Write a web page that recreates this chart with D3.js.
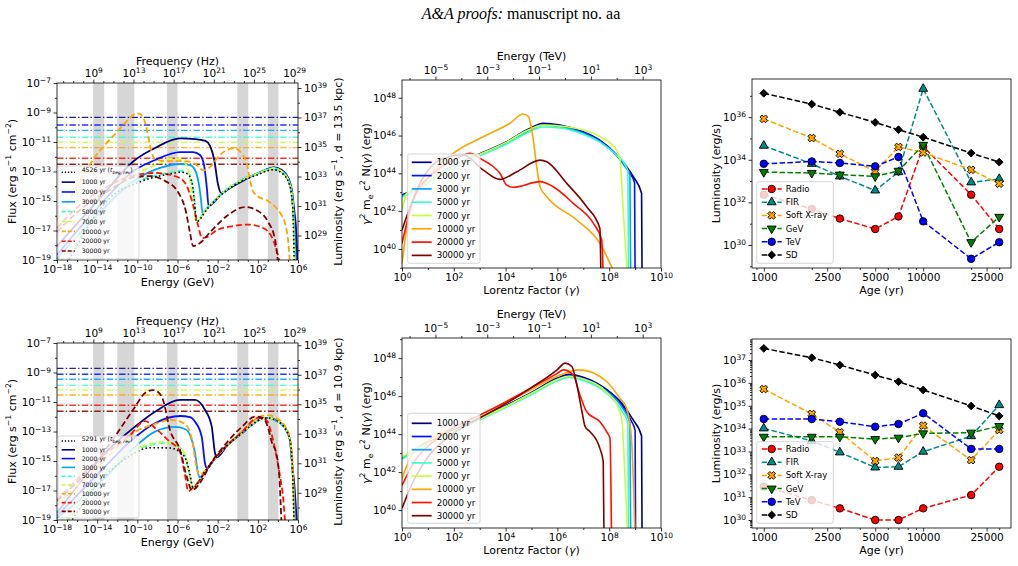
<!DOCTYPE html>
<html lang="en">
<head>
<meta charset="utf-8" />
<title></title>
<script src="https://cdn.jsdelivr.net/npm/d3@7"></script>
<style>
  body { margin: 0; background: #fff; }
  svg { font-family: "DejaVu Sans", sans-serif; }
</style>
</head>
<body>
<script>
// ---------- data (log10 values) ----------
var ageLabels = ["1000 yr", "2000 yr", "3000 yr", "5000 yr", "7000 yr", "10000 yr", "20000 yr", "30000 yr"];
var ageColors = ["#000080", "#0012ff", "#00a4ff", "#36ffc9", "#c9ff36", "#ffa400", "#ff1200", "#800000"];

// grey bands, log10 E(GeV): radio, FIR, soft X, GeV, TeV
var bandsLogE = [[-14.4, -13.3], [-12, -10.3], [-7.05, -6.0], [-0.05, 1.05], [3.0, 4.05]];

// spin-down flux levels (dash-dot lines), log10 flux
var levelsTop = [-9.33, -9.85, -10.21, -10.68, -11.02, -11.38, -12.1, -12.51];
var levelsBot = [-8.72, -9.12, -9.46, -9.87, -10.19, -10.53, -11.22, -11.63];

// SED top (d = 13.5 kpc) : [log E(GeV), log flux]
var icTop = [[-4.1, -16.35], [-3, -15.45], [-1.6, -14.5], [0.4, -13.58], [2.06, -13.12], [3.06, -12.85], [3.55, -12.78], [4.38, -13.0], [5.04, -13.58], [5.38, -14.48], [5.54, -15.8]];
var navyTop = [[-18, -18.05], [-13.72, -14.8], [-10.23, -12.22], [-8.24, -11.41], [-5.75, -10.76], [-4.25, -10.8], [-3.22, -10.93], [-2.76, -11.27], [-2.34, -12.22], [-1.95, -13.92], [-1.66, -14.46], [-0.76, -14.12], [1.23, -13.37], [2.72, -12.9], [3.6, -12.72], [4.4, -12.9], [5.04, -13.45], [5.4, -14.3], [5.62, -15.6], [5.8, -16.8], [5.95, -19.2]];
var blueTop = [[-18, -18.66], [-13.72, -15.27], [-10.23, -12.9], [-8.24, -12.22], [-5.75, -11.68], [-4.45, -11.68], [-3.76, -11.88], [-3.36, -12.56], [-3.06, -14.25], [-2.91, -15.34]];
var dodgerTop = [[-18, -18.9], [-13.72, -15.75], [-10.23, -13.58], [-7.74, -12.76], [-5.75, -12.49], [-4.75, -12.56], [-4.25, -12.9], [-3.86, -13.92], [-3.66, -14.93], [-3.51, -15.81]];
var aquaTop = [[-17.1, -19.2], [-15.71, -17.5], [-12.72, -14.7], [-9.73, -13.6], [-7.04, -13.1], [-5.6, -12.95], [-4.95, -13.1], [-4.55, -13.7], [-4.3, -15.0], [-4.12, -16.3]];
var gyTop = [[-17.7, -19.2], [-15.71, -17.1], [-12.72, -14.25], [-9.73, -13.03], [-7.74, -12.42], [-6.45, -12.1], [-5.55, -12.2], [-4.95, -12.9], [-4.55, -14.59], [-4.25, -16.15]];
var orangeTop = [[-18, -16.29], [-16.21, -14.25], [-14.22, -12.02], [-12.22, -10.46], [-10.93, -9.51], [-10.23, -9.1], [-9.83, -9.07], [-9.43, -9.31], [-9.04, -10.19], [-8.64, -11.54], [-8.24, -12.15], [-7.24, -12.29], [-5.25, -12.29], [-4.25, -12.49], [-3.4, -12.92], [-2.6, -12.6], [-1.95, -12.0], [-0.9, -11.5], [-0.27, -11.43], [0.4, -11.8], [0.89, -12.44], [1.2, -13.5], [1.45, -14.25], [2.05, -14.71], [2.9, -14.95], [3.71, -15.39], [4.3, -15.9], [4.71, -16.51], [5.0, -17.6], [5.2, -19.2]];
var redTop = [[-18, -16.83], [-15.71, -15.27], [-12.72, -13.92], [-10.23, -13.24], [-8.24, -13.1], [-6.25, -13.31], [-5.25, -13.78], [-4.45, -15.27], [-3.96, -16.63], [-3.56, -17.51], [-3.06, -17.44], [-2.06, -16.97], [-0.46, -16.7], [1.03, -16.6], [2.52, -16.83], [3.52, -17.64], [4.21, -19.2]];
var darkredTop = [[-18, -17.1], [-15.71, -15.61], [-12.72, -14.25], [-10.23, -13.37], [-8.74, -13.31], [-7.24, -13.64], [-5.95, -14.39], [-5.15, -15.75], [-4.75, -17.17], [-4.45, -18.05], [-3.76, -17.85], [-2.56, -16.97], [-0.96, -15.95], [0.72, -15.41], [2.02, -15.68], [3.02, -16.42], [3.72, -17.64], [4.02, -19.2]];
var blackTop = [[-17, -19.2], [-12.72, -14.8], [-9.73, -13.7], [-7.04, -13.2], [-5.6, -13.05], [-4.95, -13.2], [-4.55, -13.8], [-4.3, -15.1], [-4.12, -16.4], [-3, -15.5], [-1.6, -14.55], [0.4, -13.65], [2.06, -13.2], [3.06, -12.93], [3.55, -12.88], [4.38, -13.1], [5.04, -13.7], [5.36, -14.6], [5.5, -15.8], [5.62, -19.2]];
var tailsTop = [null, [[5.82, -19.2]], [[5.76, -19.2]], [[5.7, -19.2]], [[5.66, -19.2]]];

// SED bottom (d = 10.9 kpc)
var icBot = [[-3.3, -15.75], [-2.26, -14.82], [-1, -13.9], [0.4, -13.12], [1.5, -12.5], [2.55, -12.1], [3.2, -12.08], [3.71, -12.22], [4.3, -12.45], [4.71, -12.78], [5.2, -13.58], [5.44, -15.39]];
var navyBot = [[-18, -18.53], [-13.22, -14.46], [-10.23, -12.67], [-8.24, -11.66], [-5.75, -10.86], [-4.25, -10.86], [-3.26, -11.54], [-2.59, -12.67], [-2.27, -14.46], [-2.1, -14.75]];
var blueBot = [[-18, -18.73], [-13.22, -15.39], [-10.56, -13.58], [-8.24, -12.44], [-5.75, -11.95], [-4.75, -12.02], [-4.25, -12.34], [-3.59, -13.35], [-3.26, -15.16], [-3.09, -15.5]];
var dodgerBot = [[-18, -18.86], [-13.22, -16.15], [-10.56, -14.25], [-8.24, -13.01], [-6.25, -12.69], [-5.25, -12.83], [-4.75, -13.24], [-4.25, -14.46], [-3.96, -15.81], [-3.76, -16.1]];
var aquaBot = [[-17.1, -19.2], [-13.72, -16.25], [-10.73, -14.45], [-8.74, -13.92], [-7.24, -13.78], [-5.95, -14.02], [-5.25, -14.6], [-4.85, -15.8], [-4.5, -16.8]];
var gyBot = [[-17.2, -19.2], [-13.72, -16.15], [-10.73, -14.39], [-8.74, -13.85], [-7.24, -13.71], [-5.95, -13.98], [-5.25, -14.59], [-4.85, -15.75], [-4.55, -16.76]];
var orangeBot = [[-18, -17.98], [-13.22, -14.93], [-10.23, -13.03], [-8.24, -12.49], [-6.55, -12.22], [-5.25, -12.49], [-4.55, -13.58], [-4.15, -15.27], [-3.86, -15.95], [-2.26, -14.75], [0.4, -13.0], [1.5, -12.3], [2.55, -11.92], [3.2, -11.9], [3.71, -12.05], [4.3, -12.3], [4.8, -12.75], [5.2, -13.5], [5.45, -15.0], [5.65, -19.2]];
var redBot = [[-18, -17.64], [-13.72, -14.8], [-10.73, -13.24], [-9.23, -12.29], [-8.24, -12.76], [-6.94, -13.58], [-5.75, -14.39], [-5.25, -15.95], [-4.93, -17.05], [-4.6, -16.9], [-2.26, -14.8], [0.4, -13.03], [2.02, -12.08], [2.82, -12.2], [3.3, -13.0], [3.8, -14.5], [4.2, -16.0], [4.54, -17.64], [4.72, -19.2]];
var darkredBot = [[-18, -17.71], [-13.72, -14.73], [-10.43, -11.54], [-9.23, -10.39], [-8.44, -10.19], [-7.94, -10.32], [-7.44, -10.86], [-6.75, -12.9], [-5.75, -14.25], [-5.08, -16.06], [-4.58, -16.97], [-2.26, -14.73], [0.4, -12.69], [1.73, -11.99], [2.52, -12.08], [3.0, -12.7], [3.38, -13.7], [3.88, -14.6], [4.15, -16.2], [4.35, -19.2]];
var blackBot = [[-16.7, -19.2], [-13.72, -16.4], [-10.73, -14.65], [-8.74, -14.1], [-6.75, -14.12], [-5.75, -14.4], [-5.15, -14.93], [-4.75, -15.95], [-4.45, -16.8]];
var tailsBot = [[[5.62, -16.5], [5.88, -19.2]], [[5.8, -19.2]], [[5.72, -19.2]], [[5.66, -19.2]], [[5.63, -19.2]]];

// electron spectra top: [log gamma, log gamma^2 me c^2 N]
var navyNe = [[0, 42.85], [0.69, 43.29], [1.47, 44.0], [2.75, 44.88], [4.04, 45.67], [4.81, 46.29], [5.46, 46.65], [6.1, 46.56], [7.0, 46.2], [7.64, 45.76], [8.29, 44.97], [8.93, 43.82], [9.25, 42.94], [9.27, 38.5]];
var blueNe = [[0, 42.85], [0.69, 43.27], [1.47, 43.97], [2.75, 44.85], [4.04, 45.64], [4.81, 46.25], [5.46, 46.6], [6.1, 46.52], [7.0, 46.17], [7.64, 45.73], [8.29, 44.95], [8.7, 44.2], [8.98, 43.5], [9.0, 38.5]];
var dodgerNe = [[0, 42.8], [0.69, 43.25], [1.47, 43.95], [2.75, 44.82], [4.04, 45.6], [4.81, 46.2], [5.46, 46.55], [6.1, 46.47], [7.0, 46.12], [7.64, 45.68], [8.29, 44.93], [8.6, 44.4], [8.8, 43.9], [8.83, 38.5]];
var aquaNe = [[0, 42.75], [0.69, 43.2], [1.47, 43.9], [2.75, 44.78], [4.04, 45.55], [4.81, 46.12], [5.46, 46.45], [6.1, 46.4], [7.0, 46.07], [7.64, 45.65], [8.29, 44.95], [8.6, 44.5], [8.72, 44.1], [8.75, 38.5]];
var gyNe = [[0, 42.06], [0.18, 42.94], [0.69, 43.3], [1.47, 43.98], [2.75, 44.85], [4.04, 45.65], [4.81, 46.25], [5.46, 46.55], [6.36, 46.47], [7.64, 45.94], [8.29, 45.23], [8.42, 44.7], [8.54, 42.06], [8.71, 38.5]];
var orangeNe = [[0, 39.24], [0.31, 42.06], [0.95, 43.65], [1.98, 45.06], [3.14, 45.94], [4.17, 46.65], [4.68, 47.14], [4.88, 47.0], [5.07, 45.76], [5.2, 44.35], [5.33, 43.29], [5.59, 42.76], [6.75, 41.53], [7.64, 40.3], [8.16, 38.88], [8.3, 38.5]];
var redNe = [[0, 40.3], [0.44, 42.59], [1.21, 44.0], [2.11, 44.79], [2.63, 45.06], [3.01, 44.79], [3.53, 44.35], [3.78, 44.0], [4.04, 43.38], [4.3, 43.26], [5.33, 43.56], [5.84, 43.29], [6.61, 42.41], [7.39, 41.35], [7.71, 40.47], [7.77, 38.5]];
var darkredNe = [[0, 41.0], [0.69, 43.47], [1.59, 44.79], [2.37, 44.97], [3.14, 44.17], [3.78, 43.68], [4.43, 44.08], [5.33, 44.7], [5.59, 44.61], [6.36, 43.47], [7.13, 42.23], [7.64, 41.09], [7.68, 38.5]];

// electron spectra bottom
var navyNe2 = [[0, 42.75], [0.8, 43.4], [2, 44.2], [3, 44.85], [4, 45.5], [5, 46.2], [6, 46.95], [6.45, 47.15], [7, 47.0], [7.9, 46.35], [8.5, 45.6], [8.9, 44.8], [9.25, 43.9], [9.27, 38.5]];
var blueNe2 = [[0, 42.72], [0.8, 43.37], [2, 44.17], [3, 44.82], [4, 45.47], [5, 46.17], [6, 46.92], [6.45, 47.1], [7, 46.95], [7.9, 46.3], [8.5, 45.5], [8.85, 44.7], [9.0, 44.2], [9.02, 38.5]];
var dodgerNe2 = [[0, 42.7], [0.8, 43.35], [2, 44.14], [3, 44.79], [4, 45.44], [5, 46.13], [6, 46.87], [6.45, 47.05], [7, 46.9], [7.9, 46.25], [8.5, 45.4], [8.8, 44.6], [8.83, 38.5]];
var aquaNe2 = [[0, 42.68], [0.8, 43.32], [2, 44.1], [3, 44.75], [4, 45.4], [5, 46.08], [6, 46.8], [6.45, 46.98], [7, 46.82], [7.9, 46.15], [8.5, 45.2], [8.72, 44.6], [8.75, 38.5]];
var gyNe2 = [[0, 42.8], [0.8, 43.38], [2, 44.15], [3, 44.8], [4, 45.45], [5, 46.15], [6, 46.88], [6.45, 47.05], [7, 46.9], [7.9, 46.2], [8.35, 45.4], [8.5, 44.6], [8.6, 42.0], [8.72, 38.5]];
var orangeNe2 = [[0, 41.67], [0.44, 43.07], [1, 43.65], [2, 44.35], [3, 45.0], [4, 45.65], [5, 46.35], [6, 47.05], [6.85, 47.38], [7.9, 46.77], [8.41, 45.89], [8.67, 45.36], [8.86, 43.78], [9.0, 38.5]];
var redNe2 = [[0, 41.3], [0.5, 42.6], [1.2, 43.6], [2, 44.35], [3, 45.0], [4, 45.7], [5, 46.45], [6, 47.2], [6.23, 47.38], [6.61, 47.12], [6.87, 46.06], [7.13, 45.18], [7.64, 44.65], [7.9, 44.13], [8.03, 43.78], [8.09, 38.5]];
var darkredNe2 = [[0, 40.1], [0.5, 41.7], [1, 42.8], [2, 44.05], [3, 44.85], [4, 45.6], [5, 46.45], [6, 47.4], [6.3, 47.74], [6.56, 47.56], [6.75, 46.59], [6.95, 45.18], [7.07, 44.39], [7.26, 44.13], [7.64, 43.25], [7.77, 42.54], [7.8, 38.5]];

// band luminosities vs age, log10 erg/s
var ages = [1000, 2000, 3000, 5000, 7000, 10000, 20000, 30000];
var bandNames = ["Radio", "FIR", "Soft X-ray", "GeV", "TeV", "SD"];
var radioTop = [32.36, 31.69, 31.24, 30.75, 31.34, 34.62, 32.36, 30.75];
var firTop = [34.66, 33.81, 33.22, 32.56, 33.42, 37.33, 32.94, 33.1];
var sxTop = [35.92, 35.02, 34.28, 33.45, 34.6, 34.34, 33.53, 32.88];
var gevTop = [33.42, 33.38, 33.3, 33.22, 33.48, 34.7, 30.13, 31.32];
var tevTop = [33.81, 33.92, 33.85, 33.69, 34.13, 31.11, 29.35, 30.13];
var sdTop = [37.12, 36.61, 36.23, 35.75, 35.41, 35.06, 34.31, 33.89];
var radioBot = [31.46, 30.87, 30.51, 30.0, 30.0, 30.51, 31.09, 32.33];
var firBot = [34.01, 33.46, 32.96, 32.3, 32.33, 32.99, 33.67, 35.03];
var sxBot = [35.73, 34.64, 33.84, 32.58, 32.73, 34.13, 32.62, 33.94];
var gevBot = [33.64, 33.64, 33.64, 33.54, 33.6, 33.79, 33.82, 34.11];
var tevBot = [34.42, 34.42, 34.3, 34.08, 34.2, 34.67, 33.11, 33.11];
var sdBot = [37.51, 37.1, 36.78, 36.34, 36.05, 35.69, 34.99, 34.55];

// ---------- helpers ----------
var TICK_FS = 10.5;
var svg = d3.select("body").append("svg").attr("width", 1018).attr("height", 566);
svg.append("rect").attr("width", 1018).attr("height", 566).attr("fill", "#fff");

var hdr = svg.append("text").attr("x", 521).attr("y", 19).attr("text-anchor", "middle")
  .attr("font-family", "'Liberation Serif', 'Times New Roman', serif").attr("font-size", 16);
hdr.append("tspan").attr("font-style", "italic").text("A&A proofs:");
hdr.append("tspan").text(" manuscript no. aa");

function P(v) { return Math.pow(10, v); }
function range(a, b) { var r = []; for (var i = a; i <= b; i++) r.push(i); return r; }
function decades(a, b, skip) { return range(a, b).filter(function(e) { return skip.indexOf(e) < 0; }).map(P); }

function joinIC(sync, ic, tail) {
  var last = sync[sync.length - 1][0];
  return sync.concat(ic.filter(function(p) { return p[0] > last + 0.05; }), tail || []);
}

function clip(id, b) {
  svg.append("clipPath").attr("id", id).append("rect")
    .attr("x", b.x0).attr("y", b.y0).attr("width", b.x1 - b.x0).attr("height", b.y1 - b.y0);
}

function pow10(t, v) {
  var e = Math.round(Math.log10(v));
  t.append("tspan").text("10");
  t.append("tspan").attr("dy", "-0.5em").attr("font-size", "0.72em").text(e < 0 ? "\u2212" + (-e) : String(e));
}
function plain(t, v) { t.text(String(v)); }

function axis(g, scale, orient, pos, major, minor, fmt) {
  var make = { bottom: d3.axisBottom, top: d3.axisTop, left: d3.axisLeft, right: d3.axisRight }[orient];
  var tr = (orient === "bottom" || orient === "top") ? "translate(0," + pos + ")" : "translate(" + pos + ",0)";
  var none = function() { return ""; };
  var gm = g.append("g").attr("transform", tr).call(make(scale).tickValues(minor).tickSize(2).tickFormat(none));
  var gM = g.append("g").attr("transform", tr).call(make(scale).tickValues(major).tickSize(3.5).tickPadding(2.5).tickFormat(none));
  [gm, gM].forEach(function(s) {
    s.select(".domain").remove();
    s.selectAll("line").attr("stroke-width", 0.8);
    s.attr("font-family", null).attr("font-size", TICK_FS);
  });
  gM.selectAll("text").each(function(d) { fmt(d3.select(this), d); });
}

// text with super/subscripts: parts = [text, 1 sup / -1 sub / 0, italic]
function rich(t, parts, fs) {
  var cur = 0;
  parts.forEach(function(p) {
    var off = p[1] === 1 ? -0.42 * fs : p[1] === -1 ? 0.25 * fs : 0;
    var s = t.append("tspan").text(p[0]).attr("dy", off - cur);
    if (p[1]) s.attr("font-size", fs * 0.7);
    if (p[2]) s.attr("font-style", "italic");
    cur = off;
  });
  return t;
}
function label(x, y, rot, parts, fs) {
  var t = svg.append("text").attr("text-anchor", "middle").attr("font-size", fs)
    .attr("transform", "translate(" + x + "," + y + ")" + (rot ? " rotate(-90)" : ""));
  return rich(t, parts, fs);
}
function frame(b) {
  svg.append("rect").attr("x", b.x0).attr("y", b.y0).attr("width", b.x1 - b.x0).attr("height", b.y1 - b.y0)
    .attr("fill", "none").attr("stroke", "#000").attr("stroke-width", 0.8);
}
function legendBox(g, x, y, w, h) {
  g.append("rect").attr("x", x).attr("y", y).attr("width", w).attr("height", h).attr("rx", 2)
    .attr("fill", "#fff").attr("fill-opacity", 0.8).attr("stroke", "#cccccc").attr("stroke-width", 0.8);
}

// ---------- SED panels ----------
function sedPanel(b, id, curves, black, blackYr, levels, dist, leg) {
  clip(id, b);
  var x = d3.scaleLog().domain([1e-18, 1e6]).range([b.x0, b.x1]);
  var y = d3.scaleLog().domain([1e-19, 1e-7]).range([b.y1, b.y0]);
  var area = 4 * Math.PI * Math.pow(dist * 3.0857e21, 2);
  var yR = d3.scaleLog().domain([1e-19 * area, 1e-7 * area]).range([b.y1, b.y0]);
  var hz = 2.418e23;
  var xT = d3.scaleLog().domain([1e-18 * hz, 1e6 * hz]).range([b.x0, b.x1]);

  var pg = svg.append("g").attr("clip-path", "url(#" + id + ")");
  pg.selectAll("rect.band").data(bandsLogE).enter().append("rect")
    .attr("x", function(d) { return x(P(d[0])); })
    .attr("width", function(d) { return x(P(d[1])) - x(P(d[0])); })
    .attr("y", b.y0).attr("height", b.y1 - b.y0).attr("fill", "#d6d6d6");
  pg.selectAll("line.lvl").data(levels).enter().append("line")
    .attr("x1", b.x0).attr("x2", b.x1)
    .attr("y1", function(d) { return y(P(d)); }).attr("y2", function(d) { return y(P(d)); })
    .attr("stroke", function(d, i) { return ageColors[i]; }).attr("stroke-width", 1.4)
    .attr("stroke-dasharray", "6.5,2.2,1.5,2.2").attr("opacity", 0.85);

  var line = d3.line().x(function(d) { return x(P(d[0])); }).y(function(d) { return y(P(d[1])); }).curve(d3.curveMonotoneX);
  curves.forEach(function(c, i) {
    pg.append("path").attr("d", line(c)).attr("fill", "none").attr("stroke", ageColors[i])
      .attr("stroke-width", 1.8).attr("stroke-dasharray", i >= 3 ? "6,3" : null);
  });
  pg.append("path").attr("d", line(black)).attr("fill", "none").attr("stroke", "#000")
    .attr("stroke-width", 1.6).attr("stroke-dasharray", "1.6,2.4");

  var g = svg.append("g");
  axis(g, x, "bottom", b.y1, decades(-18, 6, []).filter(function(v, i) { return i % 4 === 0; }), decades(-17, 5, [-14, -10, -6, -2, 2]), pow10);
  axis(g, y, "left", b.x0, range(-19, -7).filter(function(e) { return e % 2 !== 0; }).map(P), range(-18, -8).filter(function(e) { return e % 2 === 0; }).map(P), pow10);
  axis(g, xT, "top", b.y0, [9, 13, 17, 21, 25, 29].map(P), decades(6, 28, [9, 13, 17, 21, 25]), pow10);
  axis(g, yR, "right", b.x1, [29, 31, 33, 35, 37, 39].map(P), [28, 30, 32, 34, 36, 38].map(P), pow10);
  frame(b);

  var cx = (b.x0 + b.x1) / 2, cy = (b.y0 + b.y1) / 2;
  label(cx, b.y1 + 26, false, [["Energy (GeV)", 0]], 11);
  label(cx, b.y0 - 18.5, false, [["Frequency (Hz)", 0]], 11);
  label(16, cy, true, [["Flux (erg s", 0], ["\u22121", 1], [" cm", 0], ["\u22122", 1], [")", 0]], 11);
  label(342, cy, true, [["Luminosity (erg s", 0], ["\u22121", 1], [", d = " + dist + " kpc)", 0]], 11);

  // legend
  var lg = svg.append("g");
  legendBox(lg, leg.x, leg.y, leg.w, leg.h);
  var rows = [{ c: "#000", d: "1.3,1.8", w: 1.4 }].concat(ageColors.map(function(c, i) {
    return { c: c, d: i >= 3 ? "4,2" : null, w: 1.6 };
  }));
  rows.forEach(function(r, i) {
    var yy = leg.r0 + leg.dy * i;
    lg.append("line").attr("x1", leg.x + 3.7).attr("x2", leg.x + 17).attr("y1", yy).attr("y2", yy)
      .attr("stroke", r.c).attr("stroke-width", r.w).attr("stroke-dasharray", r.d);
    var t = lg.append("text").attr("x", leg.x + 23.7).attr("y", yy).attr("dy", "0.35em").attr("font-size", 6.2);
    if (i === 0) rich(t, [[blackYr + " yr (", 0], ["t", 0, 1], ["beg, rev", -1, 1], [")", 0]], 6.2);
    else t.text(ageLabels[i - 1]);
  });
}

// ---------- electron spectrum panels ----------
function nePanel(b, id, curves, yDom, leg) {
  clip(id, b);
  var x = d3.scaleLog().domain([1, 1e10]).range([b.x0, b.x1]);
  var y = d3.scaleLog().domain([P(yDom[0]), P(yDom[1])]).range([b.y1, b.y0]);
  var xT = d3.scaleLog().domain([5.11e-7, 5.11e3]).range([b.x0, b.x1]);
  var pg = svg.append("g").attr("clip-path", "url(#" + id + ")");
  var line = d3.line().x(function(d) { return x(P(d[0])); }).y(function(d) { return y(P(d[1])); }).curve(d3.curveMonotoneX);
  curves.forEach(function(c, i) {
    pg.append("path").attr("d", line(c)).attr("fill", "none").attr("stroke", ageColors[i]).attr("stroke-width", 1.6);
  });
  var g = svg.append("g");
  axis(g, x, "bottom", b.y1, [0, 2, 4, 6, 8, 10].map(P), [1, 3, 5, 7, 9].map(P), pow10);
  axis(g, y, "left", b.x0, [40, 42, 44, 46, 48].map(P), [39, 41, 43, 45, 47, 49].map(P).filter(function(v) { return v >= P(yDom[0]) && v <= P(yDom[1]); }), pow10);
  axis(g, xT, "top", b.y0, [-5, -3, -1, 1, 3].map(P), [-6, -4, -2, 0, 2].map(P), pow10);
  frame(b);
  var cx = (b.x0 + b.x1) / 2, cy = (b.y0 + b.y1) / 2;
  label(cx, b.y1 + 26, false, [["Lorentz Factor (", 0], ["\u03b3", 0, 1], [")", 0]], 11);
  label(cx, b.y0 - 20.5, false, [["Energy (TeV)", 0]], 11);
  label(370, cy, true, [["\u03b3", 0, 1], ["2", 1], [" m", 0], ["e", -1], [" c", 0], ["2", 1], [" N(", 0], ["\u03b3", 0, 1], [") (erg)", 0]], 11);

  var lg = svg.append("g");
  legendBox(lg, leg.x, leg.y, 72.3, leg.h);
  ageLabels.forEach(function(t, i) {
    var yy = leg.r0 + leg.dy * i;
    lg.append("line").attr("x1", leg.x + 4).attr("x2", leg.x + 24).attr("y1", yy).attr("y2", yy)
      .attr("stroke", ageColors[i]).attr("stroke-width", 1.7);
    lg.append("text").attr("x", leg.x + 29).attr("y", yy).attr("dy", "0.35em").attr("font-size", 8.6).text(t);
  });
}

// ---------- luminosity vs age panels ----------
var symX = { draw: function(ctx, size) {
  var L = Math.sqrt(size) * 0.62, w = L * 0.36;
  var pts = [[w, L], [w, w], [L, w], [L, -w], [w, -w], [w, -L], [-w, -L], [-w, -w], [-L, -w], [-L, w], [-w, w], [-w, L]];
  pts.forEach(function(p, i) {
    var xx = (p[0] - p[1]) * Math.SQRT1_2, yy = (p[0] + p[1]) * Math.SQRT1_2;
    if (i) ctx.lineTo(xx, yy); else ctx.moveTo(xx, yy);
  });
  ctx.closePath();
} };
var bandStyle = [
  { c: "#ff0000", s: d3.symbolCircle, size: 44, rot: 0 },
  { c: "#008b8b", s: d3.symbolTriangle, size: 34, rot: 0 },
  { c: "#ffa500", s: symX, size: 42, rot: 0 },
  { c: "#008000", s: d3.symbolTriangle, size: 34, rot: 180 },
  { c: "#0000ff", s: d3.symbolCircle, size: 44, rot: 0 },
  { c: "#000000", s: d3.symbolSquare, size: 30, rot: 45 }
];

function lumPanel(b, series, yDom, yMajor, yMinor, leg) {
  var x = d3.scaleLog().domain([P(2.926), P(4.551)]).range([b.x0, b.x1]);
  var y = d3.scaleLog().domain([P(yDom[0]), P(yDom[1])]).range([b.y1, b.y0]);
  var g = svg.append("g");
  var line = d3.line().x(function(d) { return x(d[0]); }).y(function(d) { return y(P(d[1])); });
  series.forEach(function(vals, k) {
    var st = bandStyle[k];
    var pts = ages.map(function(a, i) { return [a, vals[i]]; });
    g.append("path").attr("d", line(pts)).attr("fill", "none").attr("stroke", st.c)
      .attr("stroke-width", 1.5).attr("stroke-dasharray", "5.5,2.4");
    g.selectAll(null).data(pts).enter().append("path")
      .attr("d", d3.symbol().type(st.s).size(st.size))
      .attr("transform", function(d) { return "translate(" + x(d[0]) + "," + y(P(d[1])) + ") rotate(" + st.rot + ")"; })
      .attr("fill", st.c).attr("stroke", "#000").attr("stroke-width", 0.9);
  });
  var ag = svg.append("g");
  axis(ag, x, "bottom", b.y1, [1000, 2500, 5000, 10000, 25000], [900, 2000, 3000, 4000, 6000, 7000, 8000, 9000, 20000, 30000], plain);
  axis(ag, y, "left", b.x0, yMajor, yMinor, pow10);
  frame(b);
  label((b.x0 + b.x1) / 2, b.y1 + 26, false, [["Age (yr)", 0]], 11);
  label(720, (b.y0 + b.y1) / 2, true, [["Luminosity (erg/s)", 0]], 11);

  var lg = svg.append("g");
  legendBox(lg, leg.x, leg.y, 76.6, leg.h);
  bandNames.forEach(function(n, k) {
    var st = bandStyle[k], yy = leg.r0 + leg.dy * k;
    lg.append("line").attr("x1", leg.x + 5).attr("x2", leg.x + 25).attr("y1", yy).attr("y2", yy)
      .attr("stroke", st.c).attr("stroke-width", 1.5).attr("stroke-dasharray", "5.5,2.4");
    lg.append("path").attr("d", d3.symbol().type(st.s).size(st.size))
      .attr("transform", "translate(" + (leg.x + 15) + "," + yy + ") rotate(" + st.rot + ")")
      .attr("fill", st.c).attr("stroke", "#000").attr("stroke-width", 0.9);
    lg.append("text").attr("x", leg.x + 29).attr("y", yy).attr("dy", "0.35em").attr("font-size", 8.5).text(n);
  });
}

// ---------- build ----------
var sedTop = [navyTop,
  joinIC(blueTop, icTop, tailsTop[1]), joinIC(dodgerTop, icTop, tailsTop[2]),
  joinIC(aquaTop, icTop, tailsTop[3]), joinIC(gyTop, icTop, tailsTop[4]),
  orangeTop, redTop, darkredTop];
var sedBot = [joinIC(navyBot, icBot, tailsBot[0]),
  joinIC(blueBot, icBot, tailsBot[1]), joinIC(dodgerBot, icBot, tailsBot[2]),
  joinIC(aquaBot, icBot, tailsBot[3]), joinIC(gyBot, icBot, tailsBot[4]),
  orangeBot, redBot, darkredBot];

sedPanel({ x0: 57, x1: 298, y0: 83, y1: 260 }, "cA", sedTop, blackTop, 4526, levelsTop, 13.5,
  { x: 58, y: 166, w: 81, h: 93, r0: 172.3, dy: 9.84 });
sedPanel({ x0: 57, x1: 298, y0: 343, y1: 520 }, "cB", sedBot, joinIC(blackBot, icBot, [[5.6, -19.2]]), 5291, levelsBot, 10.9,
  { x: 58, y: 436, w: 81, h: 82, r0: 441, dy: 8.8 });

nePanel({ x0: 402, x1: 661, y0: 80, y1: 268 }, "cC",
  [navyNe, blueNe, dodgerNe, aquaNe, gyNe, orangeNe, redNe, darkredNe], [38.99, 48.94],
  { x: 407.7, y: 154, h: 109.3, r0: 162.3, dy: 13.3 });
nePanel({ x0: 402, x1: 661, y0: 338, y1: 528 }, "cD",
  [navyNe2, blueNe2, dodgerNe2, aquaNe2, gyNe2, orangeNe2, redNe2, darkredNe2], [39.06, 49.06],
  { x: 407.7, y: 413.3, h: 110, r0: 423.3, dy: 13.2 });

lumPanel({ x0: 752, x1: 1011, y0: 79, y1: 268 }, [radioTop, firTop, sxTop, gevTop, tevTop, sdTop], [28.92, 37.79],
  [30, 32, 34, 36].map(P), [29, 31, 33, 35, 37].map(P),
  { x: 756.7, y: 181.7, h: 81.6, r0: 189, dy: 13.2 });
var fMinor = [];
range(29, 37).forEach(function(e) { for (var k = 2; k <= 9; k++) { var v = k * P(e); if (v > P(29.65) && v < P(37.92)) fMinor.push(v); } });
lumPanel({ x0: 752, x1: 1011, y0: 339, y1: 528 }, [radioBot, firBot, sxBot, gevBot, tevBot, sdBot], [29.65, 37.92],
  range(30, 37).map(P), fMinor,
  { x: 756.7, y: 441.7, h: 81.6, r0: 449, dy: 13.2 });
</script>
</body>
</html>
